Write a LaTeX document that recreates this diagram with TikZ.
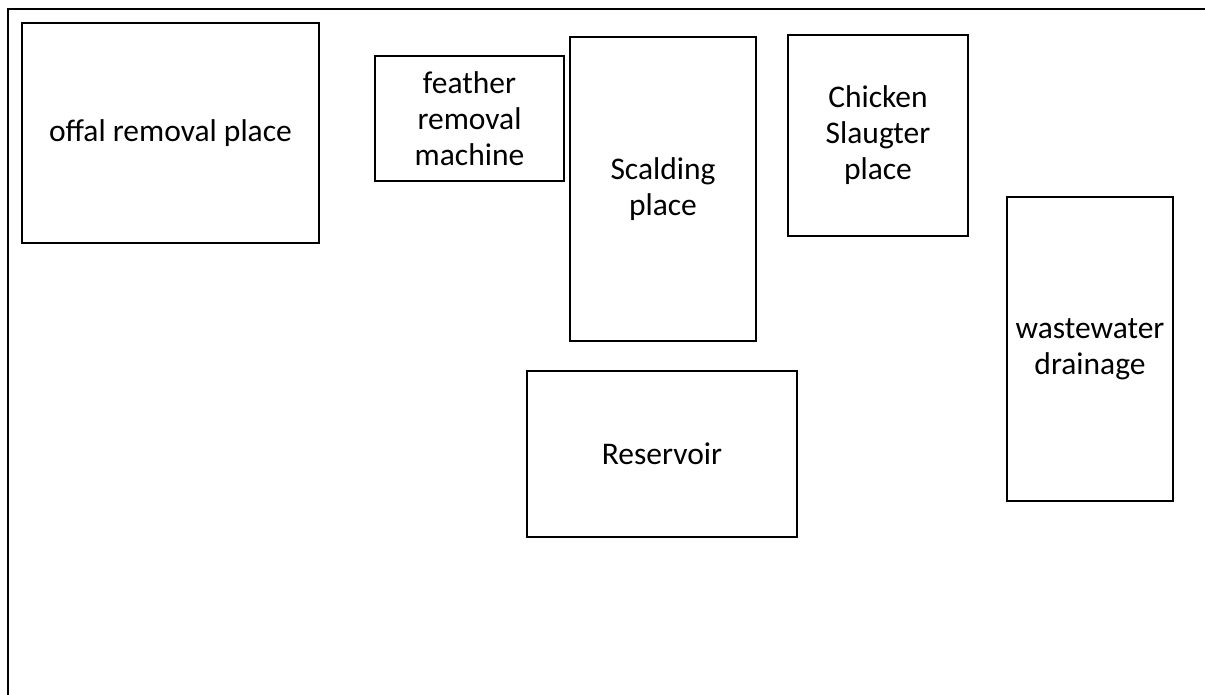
\documentclass[tikz,border=0pt]{standalone}
\usepackage{fontspec}
\setmainfont{Carlito}
\begin{document}
\begin{tikzpicture}[x=1pt,y=1pt,
  box/.style={draw=black, line width=1.6pt, align=center, inner sep=0pt,
    font=\fontsize{31.5}{36}\selectfont}]
\useasboundingbox (0,0) rectangle (1205,-695);
\draw[line width=2.4pt] (8,-695) -- (8,-9) -- (1205,-9);
\node[box, minimum width=297pt, minimum height=220pt] (offal) at (170.5,-133) {offal removal place};
\node[box, minimum width=189pt, minimum height=125pt] (feather) at (469.5,-118.5) {feather\\removal\\machine};
\node[box, minimum width=186pt, minimum height=304pt] (scald) at (663,-189) {Scalding\\place};
\node[box, minimum width=180pt, minimum height=201pt] (chicken) at (878,-135.5) {Chicken\\Slaugter\\place};
\node[box, minimum width=166pt, minimum height=304pt] (waste) at (1090,-349) {wastewater\\drainage};
\node[box, minimum width=270pt, minimum height=166pt] (res) at (662,-454) {Reservoir};
\end{tikzpicture}
\end{document}
